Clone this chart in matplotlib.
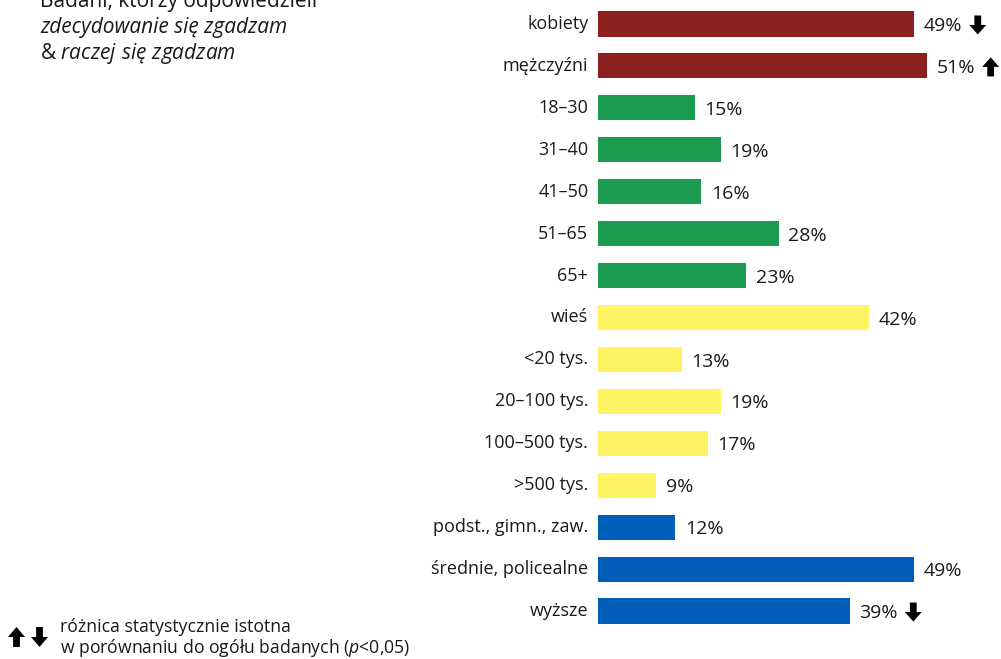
import matplotlib
matplotlib.use("Agg")
import matplotlib.pyplot as plt
from matplotlib.patches import Polygon

categories = ["kobiety", "mężczyźni", "18–30", "31–40", "41–50", "51–65", "65+",
              "wieś", "<20 tys.", "20–100 tys.", "100–500 tys.", ">500 tys.",
              "podst., gimn., zaw.", "średnie, policealne", "wyższe"]
values = [49, 51, 15, 19, 16, 28, 23, 42, 13, 19, 17, 9, 12, 49, 39]
groups = ["red", "red", "green", "green", "green", "green", "green",
          "yellow", "yellow", "yellow", "yellow", "yellow", "blue", "blue", "blue"]
# significance markers: +1 higher, -1 lower, 0 none
significance = [-1, 1, 0, 0, 0, 0, 0, 0, 0, 0, 0, 0, 0, 0, -1]

palette = {"red": "#8b201e", "green": "#1a9b50", "yellow": "#fff263", "blue": "#005eb8"}

plt.rcParams["font.family"] = ["Open Sans", "DejaVu Sans"]
plt.rcParams["mathtext.fontset"] = "custom"
plt.rcParams["mathtext.rm"] = "Open Sans"
plt.rcParams["mathtext.it"] = "Open Sans:italic"

W, H = 1001, 659
fig = plt.figure(figsize=(W / 100, H / 100), dpi=100)

ax_left, ax_right = 598, 1001
ax_top, ax_bottom = 3, 632
ax = fig.add_axes([ax_left / W, 1 - ax_bottom / H, (ax_right - ax_left) / W, (ax_bottom - ax_top) / H])
ax.set_xlim(0, (ax_right - ax_left) / 6.45)
ax.set_ylim(len(categories) - 0.5, -0.5)
ax.axis("off")

ypos = list(range(len(categories)))
ax.barh(ypos, values, height=0.6, color=[palette[g] for g in groups], edgecolor="none")

text_color = "#1a1a1a"


def block_arrow(x_left, y_center, up, width=17, height=19):
    """Solid block arrow in display (pixel) coordinates."""
    hw = width / 2
    sw = width * 0.2
    hh = height * 0.5
    cx = x_left + hw
    top = y_center + height / 2
    bot = y_center - height / 2
    if up:
        pts = [(cx, top), (cx + hw, top - hh), (cx + sw, top - hh), (cx + sw, bot),
               (cx - sw, bot), (cx - sw, top - hh), (cx - hw, top - hh)]
    else:
        pts = [(cx, bot), (cx + hw, bot + hh), (cx + sw, bot + hh), (cx + sw, top),
               (cx - sw, top), (cx - sw, bot + hh), (cx - hw, bot + hh)]
    fig.patches.append(Polygon(pts, closed=True, transform=None, facecolor="black",
                               edgecolor="none"))


value_texts = []
for y, cat, v, s in zip(ypos, categories, values, significance):
    ax.annotate(cat, xy=(0, y), xytext=(-7, 0), textcoords="offset points",
                ha="right", va="center", fontsize=13, color=text_color,
                annotation_clip=False)
    t = ax.annotate(f"{v}%", xy=(v, y), xytext=(7, -1.5), textcoords="offset points",
                    ha="left", va="center", fontsize=14, color=text_color,
                    annotation_clip=False)
    value_texts.append((t, y, s))

fig.canvas.draw()
renderer = fig.canvas.get_renderer()
for t, y, s in value_texts:
    if s != 0:
        bb = t.get_window_extent(renderer)
        _, yc = ax.transData.transform((0, y))
        block_arrow(bb.x1 + 7, yc - 1, up=s > 0)

# description in the upper-left corner
desc_fs = 15
fig.text(40 / W, 1 - 2 / H, "Badani, którzy odpowiedzieli", ha="left", va="center",
         fontsize=desc_fs, color=text_color)
fig.text(40 / W, 1 - 28 / H, "zdecydowanie się zgadzam", ha="left", va="center",
         fontsize=desc_fs, style="italic", color=text_color)
fig.text(40 / W, 1 - 53 / H, "& $\\it{raczej\\ się\\ zgadzam}$", ha="left", va="center",
         fontsize=desc_fs, color=text_color)

# significance legend
block_arrow(8, H - 637, up=True, width=17, height=20)
block_arrow(31, H - 637, up=False, width=17, height=20)
fig.text(60 / W, 1 - 627 / H, "różnica statystycznie istotna", ha="left", va="center",
         fontsize=12.7, color=text_color)
fig.text(60 / W, 1 - 648 / H, "w porównaniu do ogółu badanych ($\\it{p}$<0,05)",
         ha="left", va="center", fontsize=12.7, color=text_color)

fig.savefig("out.png", dpi=100)
